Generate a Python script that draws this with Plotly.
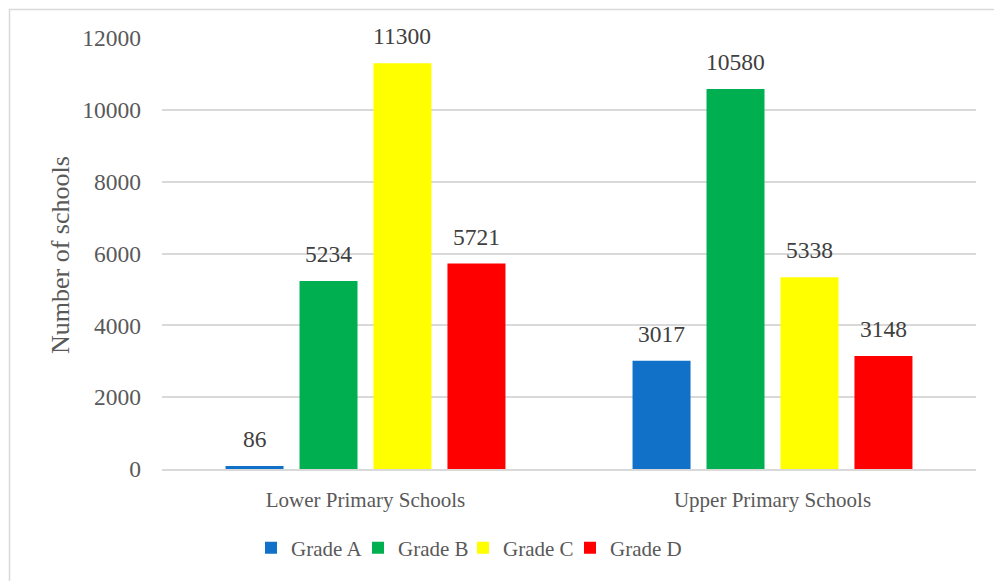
import plotly.graph_objects as go

categories = ["Lower Primary Schools", "Upper Primary Schools"]
series_names = ["Grade A", "Grade B", "Grade C", "Grade D"]
grade_a = [86, 3017]
grade_b = [5234, 10580]
grade_c = [11300, 5338]
grade_d = [5721, 3148]
colors = ["#1170c8", "#00b050", "#ffff00", "#ff0000"]
y_ticks = [0, 2000, 4000, 6000, 8000, 10000, 12000]

OFF = 8  # page body margin offset
W, H = 1002, 581
# target pixel positions in the screenshot
PL, PR, PT, PB = 162, 976, 38, 469
L, T = PL - OFF, PT - OFF
R = W - (PR - OFF)
B = H - (PB - OFF)
pw, ph = W - L - R, H - T - B

def px_x(x):
    return (x - OFF - L) / pw

def px_y(y):
    return (H - B - (y - OFF)) / ph

font = "Liberation Serif"
bargap, bargroupgap = 0.273, 0.216
slot = pw / len(categories) * (1 - bargap) / len(series_names)

# legend swatch positions (screen px) for each entry
legend_px = [270, 377, 482, 589]
legend_ids = ["legend", "legend2", "legend3", "legend4"]

all_vals = [grade_a, grade_b, grade_c, grade_d]
fig = go.Figure()
annotations = []
for i, (name, vals, c) in enumerate(zip(series_names, all_vals, colors)):
    fig.add_trace(go.Bar(
        name=name, x=categories, y=vals, marker=dict(color=c, line=dict(width=0)),
        legend=legend_ids[i],
    ))
    for cat, v in zip(categories, vals):
        annotations.append(dict(
            x=cat, y=v, xref="x", yref="y", text=str(v), showarrow=False,
            xanchor="center", yanchor="bottom", xshift=(i - 1.5) * slot, yshift=12,
            font=dict(family=font, size=23.5, color="#404040")))

annotations.append(dict(text="Number of schools", xref="paper", yref="paper",
                        x=px_x(60), y=px_y(255), xanchor="center", yanchor="middle",
                        textangle=-90, showarrow=False,
                        font=dict(family=font, size=26, color="#595959")))

legends = {}
for lid, lx in zip(legend_ids, legend_px):
    legends[lid] = dict(orientation="h", x=px_x(lx - 6 - 13), xanchor="left",
                        y=px_y(548), yanchor="middle", bgcolor="rgba(0,0,0,0)",
                        font=dict(family=font, size=21, color="#595959"),
                        itemwidth=30)

fig.update_layout(
    width=W, height=H,
    margin=dict(l=L, r=R, t=T, b=B),
    paper_bgcolor="white", plot_bgcolor="white",
    barmode="group", bargap=bargap, bargroupgap=bargroupgap,
    font=dict(family=font, color="#595959"),
    showlegend=True,
    xaxis=dict(showgrid=False, showline=True, linecolor="#d9d9d9", linewidth=1.5,
               tickfont=dict(family=font, size=21, color="#595959"),
               ticks="", ticklabelstandoff=11),
    yaxis=dict(range=[0, 12000], tickvals=y_ticks, ticktext=[str(t) for t in y_ticks],
               showgrid=True, gridcolor="#d9d9d9",
               gridwidth=1.5, showline=False, zeroline=False, ticks="",
               tickfont=dict(family=font, size=23.5, color="#595959"),
               ticklabelstandoff=20),
    annotations=annotations,
    shapes=[dict(type="rect", xref="paper", yref="paper",
                 x0=px_x(9.5), x1=px_x(1100), y0=px_y(700), y1=px_y(9.5),
                 line=dict(color="#d9d9d9", width=1.5), fillcolor="rgba(0,0,0,0)",
                 layer="below")],
    **legends,
)

fig.write_html("out.html")
